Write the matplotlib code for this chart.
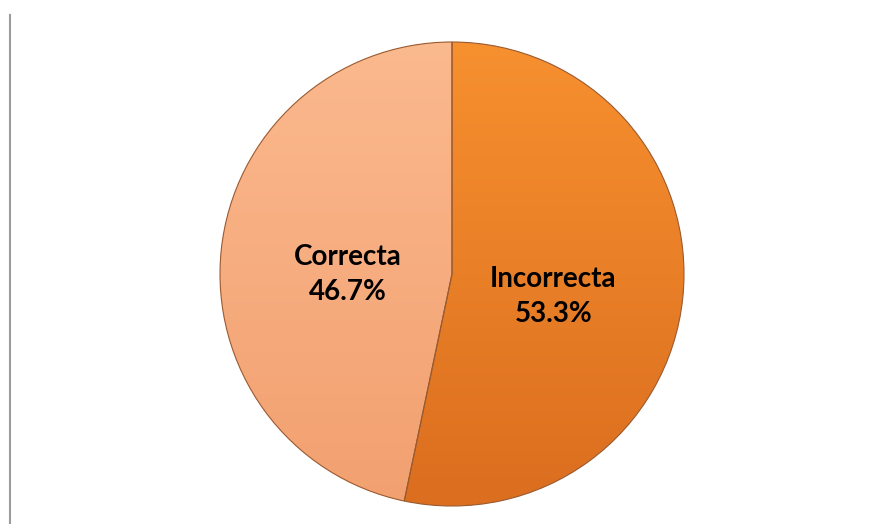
import numpy as np
import matplotlib.pyplot as plt
from matplotlib.colors import LinearSegmentedColormap

labels = ['Incorrecta', 'Correcta']
values = [53.3, 46.7]
top_colors = ['#F7902F', '#FBB98E']
bottom_colors = ['#DB6E1F', '#F2A070']

fig = plt.figure(figsize=(8.79, 5.24), dpi=100)
ax = fig.add_axes([0, 0, 1, 1])

cx, cy, r = 452, 250, 232
wedges, texts = ax.pie(values, startangle=90, counterclock=False,
                       center=(cx, cy), radius=r, frame=True,
                       wedgeprops=dict(edgecolor='#9A5A30', linewidth=0.8))
ax.set_xlim(0, 879)
ax.set_ylim(0, 524)
ax.set_aspect('equal')
ax.axis('off')

# vertical gradient inside each slice
grad = np.linspace(0, 1, 256).reshape(-1, 1)
for w, c0, c1 in zip(wedges, top_colors, bottom_colors):
    cmap = LinearSegmentedColormap.from_list('g', [c0, c1])
    im = ax.imshow(grad, cmap=cmap, extent=(cx - r, cx + r, cy - r, cy + r),
                   origin='upper', aspect='auto', zorder=w.get_zorder() + 0.1)
    im.set_clip_path(w)
    w.set_zorder(w.get_zorder() + 0.2)
    w.set_facecolor('none')

# labels
offsets = [(-7, -11), (4, -12)]
start = 90
for lab, v, (dx, dy) in zip(labels, values, offsets):
    mid = np.deg2rad(start - v / 100 * 180)
    start -= v / 100 * 360
    x = cx + 0.47 * r * np.cos(mid) + dx
    y = cy + 0.47 * r * np.sin(mid) + dy
    ax.text(x, y, f'{lab}\n{v:.1f}%', ha='center', va='center',
            fontsize=20, fontweight='bold', family='Lato',
            linespacing=1.42, zorder=10)

# left border line
ax.plot([10, 10], [0, 509], color='#9C9C9C', linewidth=1.5, zorder=10)

fig.savefig('out.png', dpi=100)
